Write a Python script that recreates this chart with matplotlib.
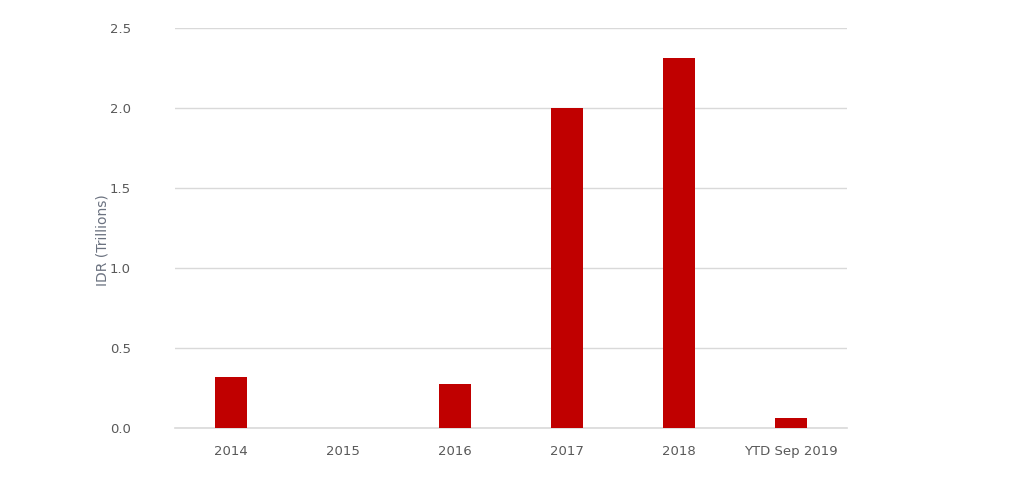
import matplotlib.pyplot as plt

categories = ["2014", "2015", "2016", "2017", "2018", "YTD Sep 2019"]
values = [0.32, 0.0, 0.275, 2.0, 2.31, 0.06]
yticks = [0.0, 0.5, 1.0, 1.5, 2.0, 2.5]

fig = plt.figure(figsize=(10.24, 4.84), dpi=100)
ax = fig.add_axes([0.171, 0.116, 0.656, 0.826])

x = list(range(len(categories)))
ax.bar(x, values, width=0.29, color="#c00000", zorder=3)

ax.set_xlim(-0.5, len(categories) - 0.5)
ax.set_ylim(0, 2.5)
ax.set_yticks(yticks)
ax.set_yticklabels([f"{t:.1f}" for t in yticks])
ax.set_xticks(x)
ax.set_xticklabels(categories)
ax.tick_params(axis="both", length=0, labelsize=9.5, colors="#595959")
ax.tick_params(axis="y", pad=32)
ax.tick_params(axis="x", pad=12)
ax.set_ylabel("IDR (Trillions)", fontsize=10, color="#6b7280")
ax.yaxis.set_label_coords(-0.097, 0.47)

ax.grid(axis="y", color="#d9d9d9", linewidth=1, zorder=0)
ax.axhline(0, color="#d9d9d9", linewidth=1.2, zorder=2, clip_on=False)
for s in ax.spines.values():
    s.set_visible(False)

fig.savefig("out.png", dpi=100)
